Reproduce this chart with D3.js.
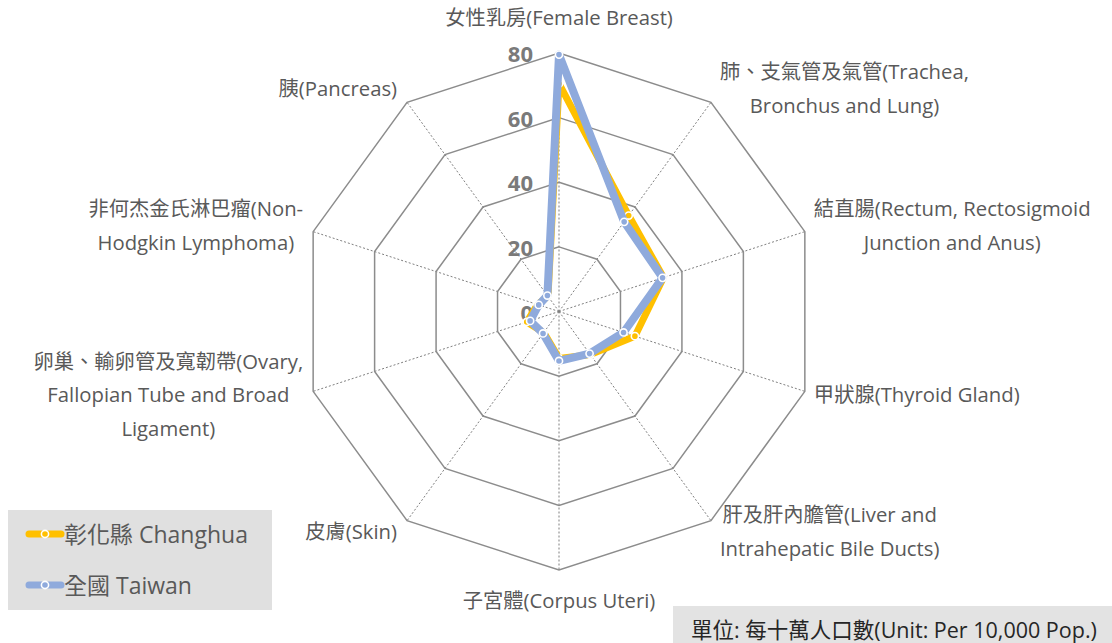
<!DOCTYPE html>
<html>
<head>
<meta charset="utf-8">
<script src="https://cdnjs.cloudflare.com/ajax/libs/d3/7.8.5/d3.min.js"></script>
<style>
  body { margin: 0; background: #fff; }
  svg { display: block; font-family: "Open Sans", "Noto Sans", "Noto Sans CJK TC", sans-serif; }
</style>
</head>
<body>
<svg id="chart" width="1112" height="643"></svg>
<script>
// categories, clockwise from the top
var categories = [
  ['女性乳房(Female Breast)'],
  ['肺、支氣管及氣管(Trachea,', 'Bronchus and Lung)'],
  ['結直腸(Rectum, Rectosigmoid', 'Junction and Anus)'],
  ['甲狀腺(Thyroid Gland)'],
  ['肝及肝內膽管(Liver and', 'Intrahepatic Bile Ducts)'],
  ['子宮體(Corpus Uteri)'],
  ['皮膚(Skin)'],
  ['卵巢、輸卵管及寬韌帶(Ovary,', 'Fallopian Tube and Broad', 'Ligament)'],
  ['非何杰金氏淋巴瘤(Non-', 'Hodgkin Lymphoma)'],
  ['胰(Pancreas)']
];
var changhua = [70.5, 36.7, 34.0, 24.7, 16.5, 14.5, 8.0, 10.5, 7.0, 5.8];
var taiwan = [79.5, 34.3, 33.7, 21.0, 16.1, 15.3, 8.4, 9.4, 6.6, 6.1];
var ticks = [0, 20, 40, 60, 80];
var seriesNames = ['彰化縣 Changhua', '全國 Taiwan'];
var seriesColors = ['#ffc000', '#8faadc'];
var unitText = '單位: 每十萬人口數(Unit: Per 10,000 Pop.)';

var svg = d3.select('#chart');
var cx = 559, cy = 311.5, R = 258.5;
var n = categories.length;

var r = d3.scaleLinear().domain([0, 80]).range([0, R]);
var angle = function(i) { return i * 2 * Math.PI / n; };
function pt(i, v) {
  return [cx + r(v) * Math.sin(angle(i)), cy - r(v) * Math.cos(angle(i))];
}

var g = svg.append('g');

// spokes (dotted)
g.selectAll('.spoke')
  .data(d3.range(n))
  .enter().append('line')
  .attr('class', 'spoke')
  .attr('x1', cx).attr('y1', cy)
  .attr('x2', function(i) { return pt(i, 80)[0]; })
  .attr('y2', function(i) { return pt(i, 80)[1]; })
  .attr('stroke', '#7f7f7f')
  .attr('stroke-width', 1)
  .attr('stroke-dasharray', '2,2');

// rings
g.selectAll('.ring')
  .data(ticks.filter(function(t) { return t > 0; }))
  .enter().append('polygon')
  .attr('class', 'ring')
  .attr('points', function(t) {
    return d3.range(n).map(function(i) { return pt(i, t).join(','); }).join(' ');
  })
  .attr('fill', 'none')
  .attr('stroke', '#8c8c8c')
  .attr('stroke-width', 1.5);

// tick labels
g.selectAll('.tick')
  .data(ticks)
  .enter().append('text')
  .attr('class', 'tick')
  .attr('x', cx - 26)
  .attr('y', function(t) { return cy - r(t); })
  .attr('text-anchor', 'end')
  .attr('dominant-baseline', 'central')
  .attr('font-size', 22)
  .attr('font-weight', 'bold')
  .attr('fill', '#7a7a7a')
  .text(function(t) { return t; });

// category labels
var lineH = 33.5;
categories.forEach(function(lines, i) {
  var a = angle(i);
  var s = Math.sin(a), c = Math.cos(a);
  var v = pt(i, 80);
  var t = g.append('text')
    .attr('font-size', 20.3)
    .attr('fill', '#595959')
    .attr('dominant-baseline', 'central');
  var spans = lines.map(function(l, k) {
    return t.append('tspan').attr('x', 0).attr('y', 0).text(l);
  });
  var w = d3.max(spans, function(sp) { return sp.node().getComputedTextLength(); });
  var midY;
  var boxCx;
  if (Math.abs(s) < 0.1) {
    boxCx = v[0];
    midY = c > 0 ? v[1] - 36 : v[1] + 30;
  } else if (s > 0) {
    boxCx = v[0] + 9 + w / 2;
    midY = v[1] - 15 * c - 2;
  } else {
    boxCx = v[0] - 10 - w / 2;
    midY = v[1] - 15 * c - 2;
  }
  var top = midY - (lines.length - 1) * lineH / 2;
  spans.forEach(function(sp, k) {
    sp.attr('x', boxCx).attr('y', top + k * lineH).attr('text-anchor', 'middle');
  });
});

// series
var series = [changhua, taiwan];
var radial = d3.lineRadial()
  .angle(function(d, i) { return angle(i); })
  .radius(function(d) { return r(d); })
  .curve(d3.curveLinearClosed);

series.forEach(function(vals, si) {
  var sg = g.append('g');
  sg.append('path')
    .datum(vals)
    .attr('transform', 'translate(' + cx + ',' + cy + ')')
    .attr('d', radial)
    .attr('fill', 'none')
    .attr('stroke', seriesColors[si])
    .attr('stroke-width', si == 0 ? 7 : 8)
    .attr('stroke-linejoin', 'round');
  sg.selectAll('circle')
    .data(vals)
    .enter().append('circle')
    .attr('cx', function(d, i) { return pt(i, d)[0]; })
    .attr('cy', function(d, i) { return pt(i, d)[1]; })
    .attr('r', 3.6)
    .attr('fill', seriesColors[si])
    .attr('stroke', '#fff')
    .attr('stroke-width', 1.6);
});

// legend
var leg = svg.append('g');
leg.append('rect')
  .attr('x', 8).attr('y', 510).attr('width', 264).attr('height', 100)
  .attr('fill', '#e0e0e0');
seriesNames.forEach(function(name, i) {
  var y = 534 + i * 51;
  leg.append('line')
    .attr('x1', 29).attr('x2', 61).attr('y1', y).attr('y2', y)
    .attr('stroke', seriesColors[i]).attr('stroke-width', 7)
    .attr('stroke-linecap', 'round');
  leg.append('circle')
    .attr('cx', 45).attr('cy', y).attr('r', 3.6)
    .attr('fill', seriesColors[i]).attr('stroke', '#fff').attr('stroke-width', 1.6);
  leg.append('text')
    .attr('x', 64).attr('y', y)
    .attr('dominant-baseline', 'central')
    .attr('font-size', 23)
    .attr('fill', '#595959')
    .text(name);
});

// unit note
svg.append('rect')
  .attr('x', 673).attr('y', 606).attr('width', 439).attr('height', 37)
  .attr('fill', '#e3e3e3');
svg.append('text')
  .attr('x', 894).attr('y', 629)
  .attr('text-anchor', 'middle')
  .attr('dominant-baseline', 'central')
  .attr('font-size', 21.5)
  .attr('fill', '#262626')
  .text(unitText);
</script>
</body>
</html>
